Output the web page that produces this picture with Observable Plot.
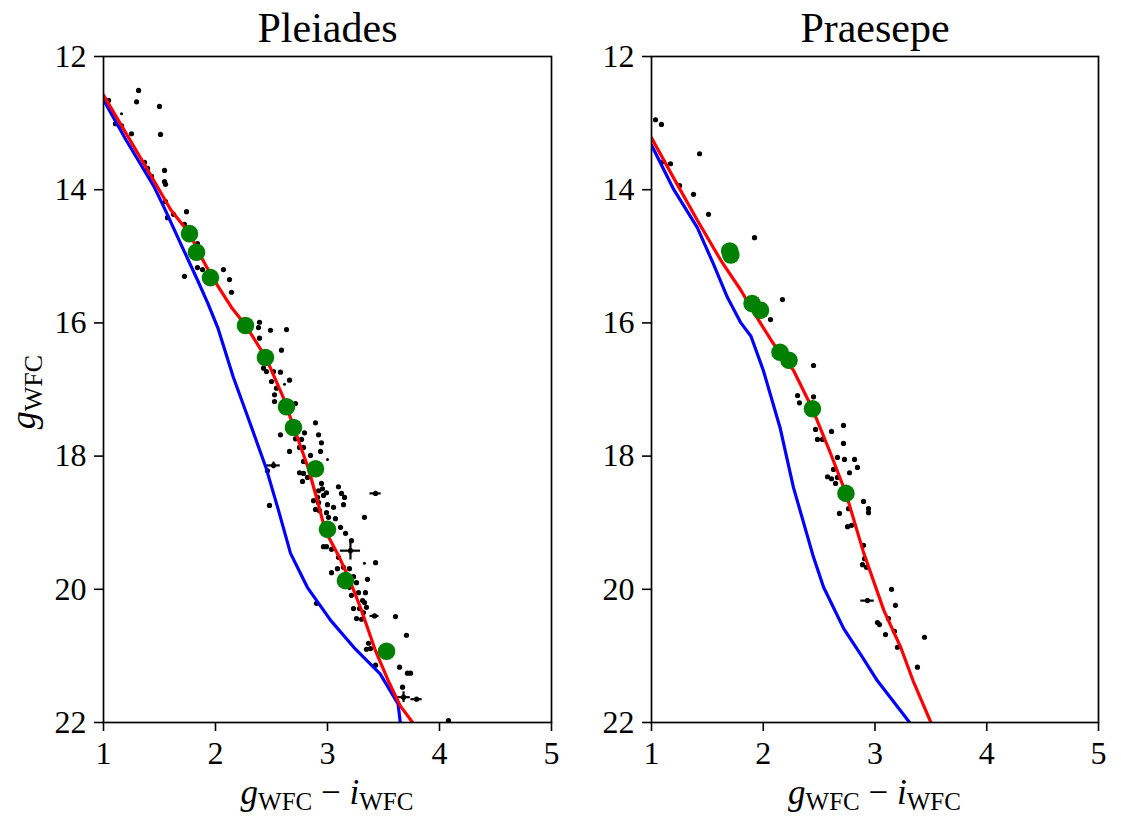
<!DOCTYPE html>
<html>
<head>
<meta charset="utf-8">
<script src="https://cdn.jsdelivr.net/npm/d3@7"></script>
<script src="https://cdn.jsdelivr.net/npm/@observablehq/plot@0.6"></script>
<style>
  body { margin: 0; background: #fff; }
  #wrap { position: relative; width: 1121px; height: 816px; font-family: "Liberation Serif", serif; }
  #wrap svg { position: absolute; top: 0; }
</style>
</head>
<body>
<div id="wrap"></div>
<script>
// ---------- data ----------
const panelTitles = ["Pleiades", "Praesepe"];
const xTicks = [1, 2, 3, 4, 5];
const yTicks = [12, 14, 16, 18, 20, 22];

// Pleiades: [g-i, g]
const pleiadesStars = [
  [1.045,12.66],[1.313,12.51],[1.295,12.68],[1.5,12.75],[1.107,13.01],[1.161,13.04],[1.25,13.16],[1.509,13.17],
  [1.366,13.59],[1.393,13.68],[1.429,13.80],[1.545,13.71],[1.545,13.88],[1.554,13.92],[1.554,14.18],[1.571,14.42],
  [1.625,14.37],[1.741,14.33],[1.723,14.52],[1.839,14.81],[1.839,15.17],[1.884,15.20],[1.723,15.30],[2.071,15.20],
  [2.125,15.35],[2.143,15.54],[2.393,15.99],[2.384,16.07],[2.491,16.11],[2.634,16.10],[2.393,16.23],[2.589,16.41],
  [2.429,16.68],[2.455,16.73],[2.518,16.73],[2.580,16.74],[2.661,16.86],[2.50,16.88],[2.545,16.98],[2.527,17.08],
  [2.527,17.18],[2.714,17.21],[2.893,17.50],[2.580,17.68],[2.795,17.65],[2.920,17.68],[2.714,17.74],[2.768,17.75],
  [2.946,17.80],[2.75,17.87],[2.786,17.87],[2.661,17.93],[2.848,17.99],[2.938,17.93],[2.464,18.22],[2.786,18.08],
  [2.75,18.25],[2.786,18.26],[2.821,18.32],[2.777,18.38],[2.946,18.41],[2.955,18.49],[2.920,18.52],[2.991,18.55],
  [3.098,18.46],[3.125,18.56],[3.152,18.62],[2.964,18.59],[2.911,18.62],[2.875,18.67],[2.920,18.70],[3.0,18.73],
  [3.054,18.77],[3.143,18.73],[2.893,18.80],[2.929,18.82],[2.991,18.85],[3.009,18.92],[3.071,18.94],[3.330,18.92],
  [3.116,19.07],[3.161,19.16],[3.214,19.27],[2.964,19.36],[2.991,19.36],[3.036,19.40],[3.098,19.52],[3.429,19.60],
  [3.143,19.67],[3.196,19.69],[3.036,19.75],[3.089,19.69],[3.232,19.81],[3.259,19.90],[3.357,19.85],[3.196,19.97],
  [3.277,20.05],[3.339,20.05],[3.214,20.09],[3.313,20.17],[3.330,20.20],[3.232,20.29],[3.286,20.29],[3.348,20.27],
  [3.321,20.35],[3.607,20.41],[3.259,20.44],[3.304,20.45],[2.902,20.21],[3.705,20.69],[3.366,20.81],[3.384,20.89],
  [3.348,20.90],[3.429,21.14],[3.643,21.17],[3.714,21.26],[3.741,21.26],[3.670,21.47],[4.080,21.97],[2.482,18.74]
];
const pleiadesFaint = [[1.161,12.86],[2.616,16.92],[3.0,18.05],[3.330,19.61]];
// [g-i, g, err(g-i), err(g)]
const pleiadesErr = [
  [2.518,18.14,0.06,0.05],[3.429,18.56,0.05,0.03],[3.205,19.42,0.09,0.14],
  [3.679,21.62,0.06,0.08],[3.795,21.65,0.05,0.02],[3.42,20.40,0.04,0.02]
];
const pleiadesMembers = [
  [1.768,14.66],[1.83,14.94],[1.955,15.32],[2.268,16.04],[2.446,16.52],[2.634,17.26],
  [2.696,17.57],[2.893,18.19],[3.0,19.10],[3.16,19.87],[3.527,20.93]
];
const pleiadesRed = [
  [1.0,12.58],[1.2,13.15],[1.4,13.72],[1.6,14.3],[1.77,14.66],[1.85,14.94],[1.95,15.25],[2.03,15.47],
  [2.14,15.76],[2.27,16.04],[2.45,16.52],[2.6,17.1],[2.7,17.57],[2.83,18.19],[2.91,18.67],[2.98,19.12],
  [3.1,19.5],[3.2,19.87],[3.3,20.3],[3.43,20.93],[3.55,21.4],[3.65,21.75],[3.76,22.0]
];
const pleiadesBlue = [
  [1.0,12.65],[1.2,13.25],[1.45,13.95],[1.55,14.3],[1.7,14.85],[1.84,15.36],[1.93,15.7],[2.02,16.07],
  [2.16,16.82],[2.29,17.42],[2.45,18.17],[2.56,18.8],[2.67,19.46],[2.82,19.97],[3.03,20.47],[3.25,20.9],
  [3.47,21.27],[3.63,21.72],[3.65,22.0]
];

// Praesepe
const praesepeStars = [
  [1.036,12.95],[1.089,13.02],[1.107,13.58],[1.170,13.61],[1.430,13.46],[1.251,13.94],[1.376,14.07],[1.510,14.37],
  [1.922,14.72],[2.172,15.65],[2.065,15.95],[2.450,16.64],[2.307,17.09],[2.324,17.20],[2.450,17.11],[2.468,17.60],
  [2.611,17.63],[2.718,17.54],[2.485,17.75],[2.530,17.75],[2.718,17.81],[2.664,18.02],[2.727,18.05],[2.817,18.05],
  [2.843,18.17],[2.772,18.25],[2.629,18.20],[2.575,18.31],[2.611,18.34],[2.664,18.32],[2.647,18.41],[2.897,18.68],
  [2.942,18.79],[2.942,18.85],[2.763,18.79],[2.682,18.86],[2.754,19.06],[2.790,19.04],[2.897,19.34],[2.906,19.54],
  [2.888,19.63],[2.924,19.67],[3.148,20.00],[3.183,20.24],[3.022,20.50],[3.040,20.53],[3.121,20.44],[3.174,20.63],
  [3.094,20.68],[3.201,20.87],[3.443,20.72],[3.380,21.17]
];
const praesepeFaint = [];
const praesepeErr = [[2.933,20.17,0.06,0.03]];
const praesepeMembers = [
  [1.70,14.92],[1.71,14.98],[1.90,15.71],[1.975,15.81],[2.15,16.44],[2.23,16.56],[2.44,17.29],[2.74,18.56]
];
const praesepeRed = [
  [1.0,13.22],[1.2,13.83],[1.41,14.46],[1.62,15.06],[1.80,15.51],[1.9,15.8],[2.0,16.07],[2.09,16.31],
  [2.27,16.71],[2.44,17.29],[2.60,17.95],[2.74,18.56],[2.90,19.46],[3.08,20.32],[3.23,20.87],[3.34,21.37],[3.50,22.0]
];
const praesepeBlue = [
  [1.0,13.33],[1.2,14.0],[1.41,14.57],[1.55,15.1],[1.68,15.62],[1.8,16.0],[1.89,16.2],[2.0,16.71],
  [2.15,17.57],[2.27,18.47],[2.45,19.52],[2.54,19.97],[2.72,20.59],[2.88,21.0],[3.02,21.37],[3.31,22.0]
];

// ---------- drawing ----------
const FONT = "'Liberation Serif', 'DejaVu Serif', serif";
const px = d => d[0], py = d => d[1];

function panel(o) {
  const svg = Plot.plot({
    width: o.width, height: 816,
    marginLeft: o.marginLeft, marginRight: o.marginRight, marginTop: 56, marginBottom: 94,
    style: { fontFamily: FONT, fontSize: "32px", background: "white", overflow: "visible", color: "black" },
    x: { domain: [1, 5] },
    y: { domain: [12, 22], reverse: true },
    marks: [
      Plot.ruleY(o.err, { y: py, x1: d => d[0] - d[2], x2: d => d[0] + d[2], stroke: "black", strokeWidth: 2.2 }),
      Plot.ruleX(o.err, { x: px, y1: d => d[1] - d[3], y2: d => d[1] + d[3], stroke: "black", strokeWidth: 2.2 }),
      Plot.dot(o.stars.concat(o.err), { x: px, y: py, r: 2.6, fill: "black", stroke: null }),
      Plot.dot(o.faint, { x: px, y: py, r: 1.5, fill: "black", stroke: null }),
      Plot.line(o.blue, { x: px, y: py, stroke: "#0000ff", strokeWidth: 3.2, clip: true }),
      Plot.line(o.red, { x: px, y: py, stroke: "#ff0000", strokeWidth: 3.2, clip: true }),
      Plot.dot(o.members, { x: px, y: py, r: 8.8, fill: "#008000", stroke: null }),
      Plot.frame({ stroke: "black", strokeWidth: 1.7 }),
      Plot.axisX({ ticks: xTicks, tickSize: 9, tickPadding: 10, strokeWidth: 1.6, label: null, tickFormat: d => String(d) }),
      Plot.axisY({ ticks: yTicks, tickSize: 9, tickPadding: 8, strokeWidth: 1.6, label: null, tickFormat: d => String(d) }),
      Plot.text([o.title], { text: d => d, frameAnchor: "top", dy: -15, lineAnchor: "bottom", fontSize: 42 })
    ]
  });
  const s = d3.select(svg);
  // x-axis label: g_WFC − i_WFC
  const cx = o.marginLeft + (o.width - o.marginLeft - o.marginRight) / 2;
  const t = s.append("text").attr("x", cx).attr("y", 804).attr("text-anchor", "middle")
    .style("font-size", "35px").style("font-family", FONT).attr("fill", "black");
  t.append("tspan").style("font-style", "italic").text("g");
  t.append("tspan").attr("dy", 6).style("font-size", "25px").text("WFC");
  t.append("tspan").attr("dy", -6).text(" \u2212 ");
  t.append("tspan").style("font-style", "italic").text("i");
  t.append("tspan").attr("dy", 6).style("font-size", "25px").text("WFC");
  if (o.ylabel) {
    const ty = s.append("text").attr("transform", "translate(35,392) rotate(-90)").attr("text-anchor", "middle")
      .style("font-size", "36px").style("font-family", FONT).attr("fill", "black");
    ty.append("tspan").style("font-style", "italic").text("g");
    ty.append("tspan").attr("dy", 7).style("font-size", "26px").text("WFC");
  }
  svg.style.left = o.left + "px";
  return svg;
}

const wrap = document.getElementById("wrap");
wrap.appendChild(panel({
  title: panelTitles[0], left: 0, width: 560, marginLeft: 103, marginRight: 9, ylabel: true,
  stars: pleiadesStars, faint: pleiadesFaint, err: pleiadesErr, members: pleiadesMembers,
  red: pleiadesRed, blue: pleiadesBlue
}));
wrap.appendChild(panel({
  title: panelTitles[1], left: 560, width: 561, marginLeft: 91, marginRight: 23, ylabel: false,
  stars: praesepeStars, faint: praesepeFaint, err: praesepeErr, members: praesepeMembers,
  red: praesepeRed, blue: praesepeBlue
}));
</script>
</body>
</html>
